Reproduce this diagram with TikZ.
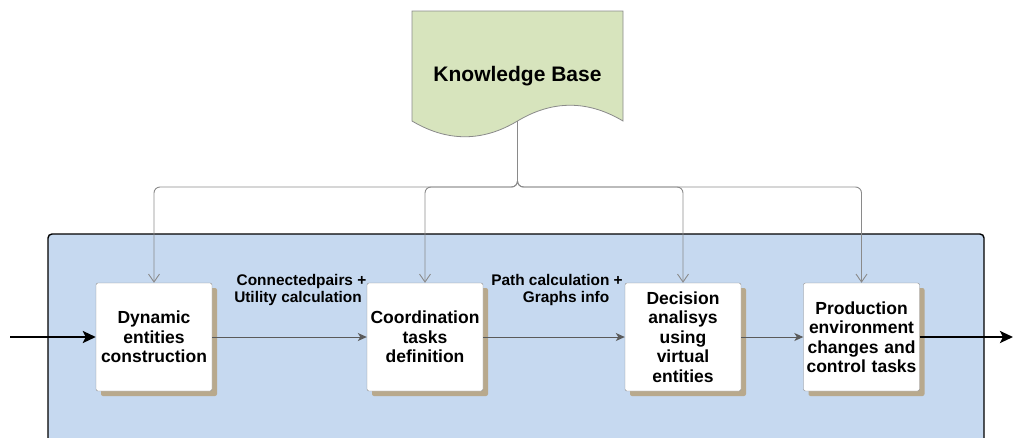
\documentclass[tikz,border=0pt]{standalone}
\usepackage{fontspec}
\setmainfont{Liberation Sans}
\usetikzlibrary{arrows.meta,shadows}
\definecolor{kbfill}{HTML}{D7E4BD}
\definecolor{panel}{HTML}{C6D9F0}
\definecolor{shade}{HTML}{B8A98D}
\definecolor{wire}{HTML}{5A5A5A}
\definecolor{edge}{HTML}{8A8A8A}

\begin{document}
\begin{tikzpicture}[x=1pt,y=-1pt,
  stage/.style={draw=edge, fill=white, rounded corners=2pt,
    minimum width=116pt, minimum height=108pt, text width=112pt,
    inner sep=2pt, align=center,
    font=\fontsize{17.5}{19.5}\selectfont\bfseries,
    drop shadow={shadow xshift=5pt, shadow yshift=-5pt, fill=shade, opacity=1}},
  flow/.style={draw=wire, line width=1pt, -{Stealth[length=9pt,width=8pt,inset=2.5pt]}},
  feed/.style={draw=edge, line width=0.9pt, rounded corners=6pt,
    -{Straight Barb[length=8pt,width=11pt]}},
  io/.style={draw=black, line width=2.8pt, -{Stealth[length=13pt,width=12pt,inset=3pt]}},
  tag/.style={font=\fontsize{15.4}{17}\selectfont\bfseries, align=center, inner sep=0pt}]

\useasboundingbox (0,0) rectangle (1014,437);
\clip (0,0) rectangle (1014,437);

% system panel
\draw[fill=panel, draw=black, line width=1.4pt, rounded corners=4pt]
  (48,234) rectangle (984,470);

% knowledge base (document shape)
\draw[fill=kbfill, draw=edge, line width=0.8pt]
  (412,11) -- (623,11) -- (623,121)
  .. controls (587.7,100) and (552.5,100) .. (517.5,121)
  .. controls (482.5,142) and (447.3,142) .. (412,121) -- cycle;
\node[font=\fontsize{21}{24}\selectfont\bfseries] (kb) at (517.5,76) {Knowledge Base};
\coordinate (kbout) at (517.5,121);
\coordinate (bus) at (517.5,187);

% processing stages
\node[stage] (d1) at (154,337) {Dynamic\\entities\\construction};
\node[stage] (d2) at (425,337) {Coordination\\tasks\\definition};
\node[stage] (d3) at (683,337) {Decision\\analisys\\using\\virtual\\entities};
\node[stage] (d4) at (861.5,337) {Production\\environment\\changes and\\control tasks};

% knowledge feeds
\draw[feed] (kbout) -- (bus) -| (d1.north);
\draw[feed] (kbout) -- (bus) -| (d2.north);
\draw[feed] (kbout) -- (bus) -| (d3.north);
\draw[feed] (kbout) -- (bus) -| (d4.north);

% stage-to-stage flow
\draw[flow] (d1.east) -- (d2.west);
\draw[flow] (d2.east) -- (d3.west);
\draw[flow] (d3.east) -- (d4.west);

\node[tag] (t1) at (298,290) {\hspace*{7pt}Connectedpairs +\\Utility calculation};
\node[tag] (t2) at (557,290) {Path calculation +\\\hspace*{18pt}Graphs info};

% input and output
\coordinate (in) at (10,337);
\coordinate (out) at (1013,337);
\draw[io] (in) -- (d1.west);
\draw[io] (d4.east) -- (out);
\end{tikzpicture}
\end{document}
